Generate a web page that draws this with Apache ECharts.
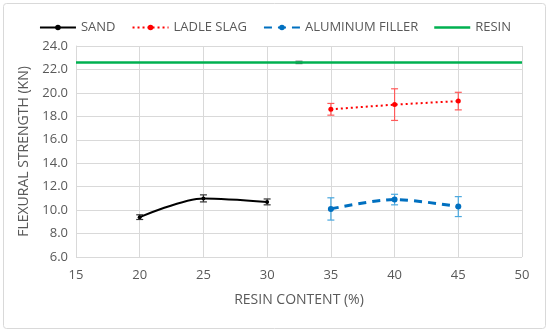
<!DOCTYPE html>
<html><head><meta charset="utf-8">
<script src="https://cdn.jsdelivr.net/npm/echarts@6/dist/echarts.min.js"></script>
<style>html,body{margin:0;padding:0;background:#fff}#c{width:550px;height:333px}</style>
</head><body><div id="c"></div>
<script>
const sandX = [20, 25, 30];
const sandY = [9.4, 11.0, 10.7];
const sandErr = [0.2, 0.3, 0.25];
const slagX = [35, 40, 45];
const slagY = [18.6, 19.0, 19.3];
const slagErr = [0.5, 1.35, 0.75];
const alX = [35, 40, 45];
const alY = [10.1, 10.9, 10.3];
const alErr = [0.95, 0.45, 0.85];
const resinX = [15, 50];
const resinY = [22.6, 22.6];
const resinErrX = [32.5];
const resinErrY = [22.6];
const resinErr = [0.1];
const xTicks = [15, 20, 25, 30, 35, 40, 45, 50];
const yTicks = [6, 8, 10, 12, 14, 16, 18, 20, 22, 24];

const font = 'Open Sans';
const txt = '#595959';
function pairs(xs, ys){ return xs.map((x,i)=>[x, ys[i]]); }
function errData(xs, ys, es){ return xs.map((x,i)=>[x, ys[i]-es[i], ys[i]+es[i]]); }
function errSeries(name, xs, ys, es, color){
  return {
    type:'custom', name: name, silent:true, z:1,
    data: errData(xs, ys, es),
    renderItem: function(params, api){
      const lo = api.coord([api.value(0), api.value(1)]);
      const hi = api.coord([api.value(0), api.value(2)]);
      const w = 3.5;
      const st = {stroke: color, lineWidth: 1.2};
      return {type:'group', children:[
        {type:'line', shape:{x1:lo[0], y1:lo[1], x2:hi[0], y2:hi[1]}, style:st},
        {type:'line', shape:{x1:lo[0]-w, y1:lo[1], x2:lo[0]+w, y2:lo[1]}, style:st},
        {type:'line', shape:{x1:hi[0]-w, y1:hi[1], x2:hi[0]+w, y2:hi[1]}, style:st}
      ]};
    }
  };
}
const chart = echarts.init(document.getElementById('c'));
chart.setOption({
  animation:false,
  backgroundColor:'#fff',
  graphic:[{type:'rect', shape:{x:3.5, y:3.5, width:542, height:325, r:3}, style:{fill:'none', stroke:'#d9d9d9', lineWidth:1}}],
  legend:{
    top:16, left:'center', itemWidth:36, itemHeight:7, itemGap:16,
    textStyle:{fontFamily:font, fontSize:13, color:txt},
    data:['SAND','LADLE SLAG','ALUMINUM FILLER',{name:'RESIN', icon:'path://M0,0 L36,0 L36,2.5 L0,2.5 Z'}]
  },
  grid:{left:76, right:28, top:46, bottom:76},
  xAxis:{
    type:'value', min:15, max:50, interval:5,
    name:'RESIN CONTENT (%)', nameLocation:'middle', nameGap:36,
    nameTextStyle:{fontFamily:font, fontSize:14, color:txt},
    axisLine:{show:false}, axisTick:{show:false},
    axisLabel:{fontFamily:font, fontSize:13, color:txt, margin:12},
    splitLine:{show:true, lineStyle:{color:'#d9d9d9'}}
  },
  yAxis:{
    type:'value', min:6, max:24, interval:2,
    name:'FLEXURAL STRENGTH (KN)', nameLocation:'middle', nameGap:40,
    nameTextStyle:{fontFamily:font, fontSize:14, color:txt},
    axisLine:{show:true, lineStyle:{color:'#d9d9d9'}}, axisTick:{show:false},
    axisLabel:{fontFamily:font, fontSize:13, color:txt, margin:8, formatter:v=>v.toFixed(1)},
    splitLine:{show:true, lineStyle:{color:'#d9d9d9'}}
  },
  series:[
    errSeries('sandErr', sandX, sandY, sandErr, '#333333'),
    errSeries('slagErr', slagX, slagY, slagErr, '#ff5a5a'),
    errSeries('alErr', alX, alY, alErr, '#4aa8de'),
    errSeries('resinErr', resinErrX, resinErrY, resinErr, '#666666'),
    {name:'SAND', type:'line', data:pairs(sandX, sandY), smooth:0.3, z:3,
     symbol:'circle', symbolSize:4, color:'#000',
     lineStyle:{color:'#000', width:2}, itemStyle:{color:'#000'}},
    {name:'LADLE SLAG', type:'line', data:pairs(slagX, slagY), z:3,
     symbol:'circle', symbolSize:5, color:'#ff0000',
     lineStyle:{color:'#ff0000', width:2, type:[2,3]}, itemStyle:{color:'#ff0000'}},
    {name:'ALUMINUM FILLER', type:'line', data:pairs(alX, alY), smooth:0.3, z:3,
     symbol:'circle', symbolSize:6, color:'#0070c0',
     lineStyle:{color:'#0070c0', width:3, type:[8,6]}, itemStyle:{color:'#0070c0'}},
    {name:'RESIN', type:'line', data:pairs(resinX, resinY), z:2,
     symbol:'none', color:'#00b050',
     lineStyle:{color:'#00b050', width:2.5}, itemStyle:{color:'#00b050'}}
  ]
});
</script></body></html>
